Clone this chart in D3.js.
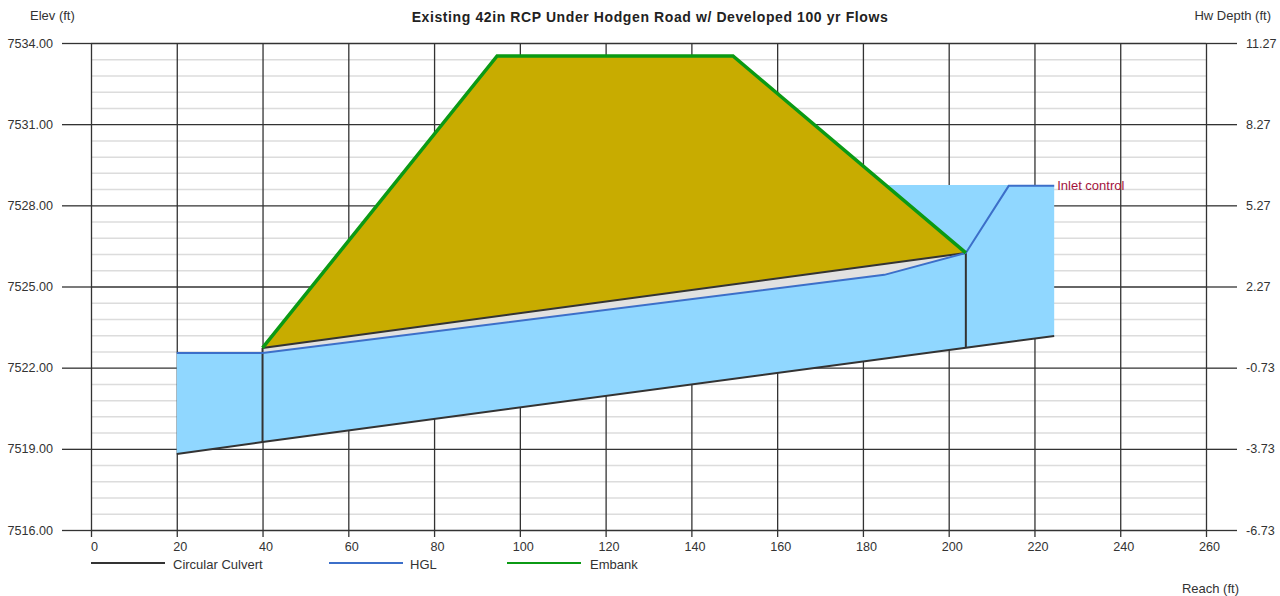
<!DOCTYPE html>
<html>
<head>
<meta charset="utf-8">
<script src="https://cdnjs.cloudflare.com/ajax/libs/d3/7.8.5/d3.min.js"></script>
<style>
  body { margin: 0; background: #fff; }
  text { font-family: "Liberation Sans", Arial, sans-serif; font-size: 13px; fill: #333; }
  .tick text { font-size: 12.6px; }
  .domain { display: none; }
  .grid-major line { stroke: #333; stroke-width: 1.3; }
  .grid-minor line { stroke: #dcdcdc; stroke-width: 1.5; }
</style>
</head>
<body>
<div id="chart"></div>
<script>
// axis ticks
const reachTicks = [0, 20, 40, 60, 80, 100, 120, 140, 160, 180, 200, 220, 240, 260];
const elevTicks = [7534, 7531, 7528, 7525, 7522, 7519, 7516];
const elevMinorTicks = [
  7533.4, 7532.8, 7532.2, 7531.6, 7530.4, 7529.8, 7529.2, 7528.6,
  7527.4, 7526.8, 7526.2, 7525.6, 7524.4, 7523.8, 7523.2, 7522.6,
  7521.4, 7520.8, 7520.2, 7519.6, 7518.4, 7517.8, 7517.2, 7516.6,
];
const depthTicks = [11.27, 8.27, 5.27, 2.27, -0.73, -3.73, -6.73];

// culvert profile
const invertReach = [20, 40, 204, 224.6];
const invertElev = [7518.81, 7519.25, 7522.74, 7523.17];
const crownReach = [40, 204];
const crownElev = [7522.73, 7526.24];

// hydraulic grade line
const hglReach = [20, 40, 185, 204, 214, 224.6];
const hglElev = [7522.54, 7522.54, 7525.43, 7526.24, 7528.72, 7528.72];

// embankment
const embankReach = [40, 94.7, 149.7, 204];
const embankElev = [7522.73, 7533.52, 7533.52, 7526.24];

// water surface behind the embankment
const pondReach = 185.7;
const pondElev = 7528.75;

const legendNames = ["Circular Culvert", "HGL", "Embank"];
const legendColors = ["#333333", "#3c6fc9", "#0b9a14"];

const width = 1280;
const height = 596;
const margin = { top: 43, right: 74, bottom: 66, left: 91 };
const w = width - margin.left - margin.right;
const h = height - margin.top - margin.bottom;

const svg = d3.select("#chart").append("svg")
  .attr("width", width)
  .attr("height", height)
  .style("display", "block");

const g = svg.append("g").attr("transform", `translate(${margin.left},${margin.top})`);

const x = d3.scaleLinear().domain([0, 260]).range([0, w]);
const y = d3.scaleLinear().domain([7516, 7534]).range([h, 0]);
const yDepth = d3.scaleLinear().domain([-6.73, 11.27]).range([h, 0]);

// turn parallel arrays into [reach, elev] points
const zipPts = (xs, ys) => xs.map((d, i) => [d, ys[i]]);
const line = d3.line().x((d) => x(d[0])).y((d) => y(d[1]));

// grid first, everything else sits on top of it
g.append("g")
  .attr("class", "grid-minor")
  .call(d3.axisLeft(y).tickValues(elevMinorTicks).tickSize(-w).tickFormat(""));

g.append("g")
  .attr("class", "grid-major")
  .call(d3.axisLeft(y).tickValues(elevTicks).tickSize(-w).tickFormat(""));

// axes
g.append("g")
  .attr("class", "grid-major")
  .call(d3.axisLeft(y).tickValues(elevTicks).tickSize(29).tickPadding(9)
    .tickFormat((d) => d.toFixed(2)));

g.append("g")
  .attr("class", "grid-major")
  .attr("transform", `translate(${w},0)`)
  .call(d3.axisRight(yDepth).tickValues(depthTicks).tickSize(31).tickPadding(9)
    .tickFormat((d) => d.toFixed(2)));

g.append("g")
  .attr("class", "grid-major")
  .attr("transform", `translate(0,${h})`)
  .call(d3.axisBottom(x).tickValues(reachTicks).tickSize(7).tickPadding(5))
  .call((a) => a.selectAll("text").attr("dx", 3));

g.append("g")
  .attr("class", "grid-major")
  .attr("transform", `translate(0,${h})`)
  .call(d3.axisBottom(x).tickValues(reachTicks).tickSize(-h).tickFormat(""));

const invert = zipPts(invertReach, invertElev);
const crown = zipPts(crownReach, crownElev);
const hgl = zipPts(hglReach, hglElev);
const embank = zipPts(embankReach, embankElev);

// water: tailwater pool, inside the barrel, headwater pool
const waterColor = "#90d7ff";
const polys = [
  { fill: waterColor, pts: [hgl[0], hgl[1], invert[1], invert[0]] },
  { fill: waterColor, pts: [hgl[1], hgl[2], hgl[3], invert[2], invert[1]] },
  { fill: waterColor, pts: [[pondReach, pondElev], [hglReach[5], pondElev], invert[3], invert[2], crown[1]] },
  // gold embankment sits on the crown, air gap in the barrel is grey
  { fill: "#c8ac00", pts: embank },
  { fill: "#e1e1e1", pts: [crown[0], crown[1], hgl[3], hgl[2], hgl[1]] },
];

g.selectAll(".poly")
  .data(polys)
  .join("path")
  .attr("class", "poly")
  .attr("fill", (d) => d.fill)
  .attr("d", (d) => line(d.pts) + "Z");

// culvert: invert, crown and the two end walls
const culvertPaths = [invert, crown, [invert[1], crown[0]], [invert[2], crown[1]]];
g.selectAll(".culvert")
  .data(culvertPaths)
  .join("path")
  .attr("class", "culvert")
  .attr("fill", "none")
  .attr("stroke", legendColors[0])
  .attr("stroke-width", 2)
  .attr("d", line);

g.append("path")
  .attr("fill", "none")
  .attr("stroke", legendColors[1])
  .attr("stroke-width", 2)
  .attr("d", line(hgl));

g.append("path")
  .attr("fill", "none")
  .attr("stroke", legendColors[2])
  .attr("stroke-width", 3.5)
  .attr("d", line(embank));

g.append("text")
  .attr("x", x(hglReach[5]) + 3)
  .attr("y", y(pondElev) + 5)
  .style("fill", "#a3123c")
  .text("Inlet control");

// titles
svg.append("text")
  .attr("x", 650)
  .attr("y", 22)
  .attr("text-anchor", "middle")
  .style("font-weight", "bold")
  .style("font-size", "14px")
  .style("letter-spacing", "0.6px")
  .style("fill", "#222")
  .text("Existing 42in RCP Under Hodgen Road w/ Developed 100 yr Flows");

svg.append("text").attr("x", 30).attr("y", 20).text("Elev (ft)");
svg.append("text").attr("x", 1271).attr("y", 20).attr("text-anchor", "end").text("Hw Depth (ft)");
svg.append("text").attr("x", 1239).attr("y", 593).attr("text-anchor", "end").text("Reach (ft)");

// legend
const legendX = [91, 329, 507];
const legendTextX = [82, 81, 83];
const legend = svg.selectAll(".legendItem")
  .data(legendNames)
  .join("g")
  .attr("class", "legendItem")
  .attr("transform", (d, i) => `translate(${legendX[i]},563)`);

legend.append("line")
  .attr("x2", 74)
  .attr("stroke", (d, i) => legendColors[i])
  .attr("stroke-width", 2);

legend.append("text")
  .attr("x", (d, i) => legendTextX[i])
  .attr("y", 6)
  .text((d) => d);
</script>
</body>
</html>
